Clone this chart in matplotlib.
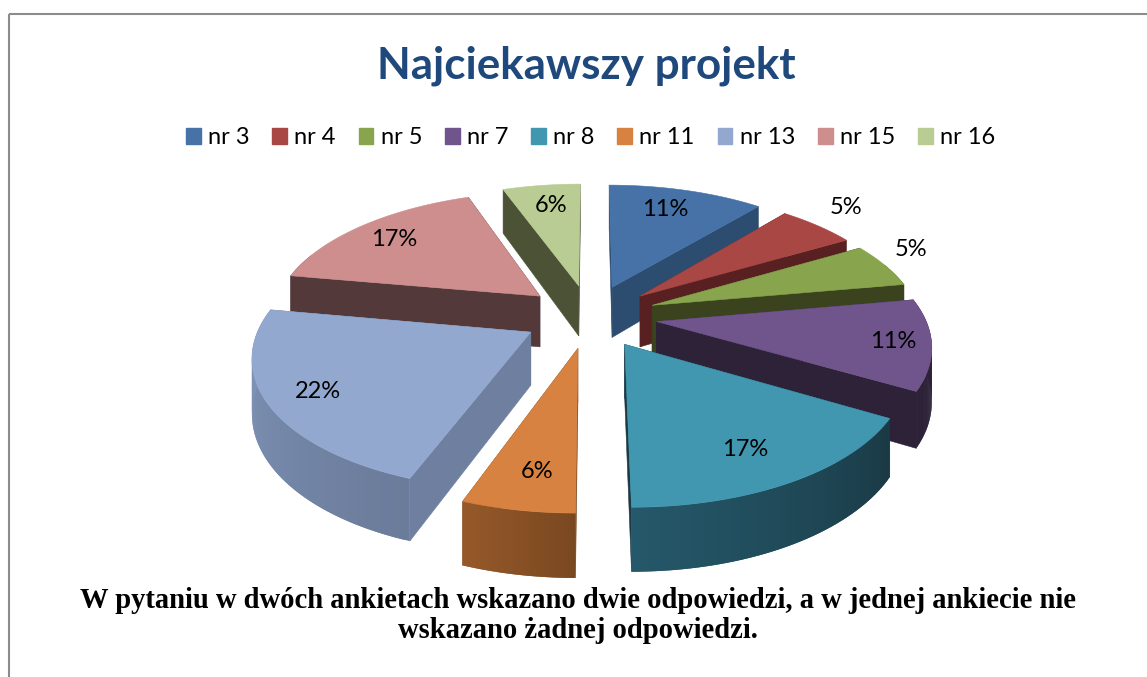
import numpy as np
import matplotlib
matplotlib.use("Agg")
import matplotlib.pyplot as plt
from matplotlib.patches import Polygon, Patch

categories = ["nr 3", "nr 4", "nr 5", "nr 7", "nr 8", "nr 11", "nr 13", "nr 15", "nr 16"]
# slice sizes (answers per project)
values = [2, 1, 1, 2, 3, 1, 4, 3, 1]
percent_labels = ["11%", "5%", "5%", "11%", "17%", "6%", "22%", "17%", "6%"]
title = "Najciekawszy projekt"
note = ["W pytaniu w dwóch ankietach wskazano dwie odpowiedzi, a w jednej ankiecie nie",
        "wskazano żadnej odpowiedzi."]

top_colors = ["#4672A8", "#A84744", "#88A44C", "#70548C", "#4197B0", "#D78240", "#92A8CE", "#CE8E8D", "#B9CC93"]
face_colors = ["#2C4D6F", "#582020", "#3A421E", "#2D2238", "#1A3A45", "#7A4820", "#6E7F9F", "#53393A", "#4B5236"]
# outer wall shade at the slice's start and end angle
wall_start = ["#2C4D6F", "#582020", "#3A421E", "#2D2238", "#1A3A45", "#7A4820", "#6B7B9A", "#53393A", "#4B5236"]
wall_end = ["#2C4D6F", "#582020", "#3A421E", "#2D2238", "#25586A", "#96592A", "#8298BC", "#53393A", "#4B5236"]
label_xy = [(665, 209), (846, 207), (911, 250), (893, 341), (745, 450), (537, 472), (318, 391), (394, 240), (551, 205)]

# projection parameters (pixels)
CX, CY, S, T, K, H, EXPLODE = 590, 316, 268, 126.8, 0.159, 52, 0.25


def project(u, v, z=0.0):
    w = 1 + K * v
    return np.column_stack([CX + S * u / w, CY - T * v / w + H * z / w])


def hex2rgb(c):
    return np.array(matplotlib.colors.to_rgb(c))


fig = plt.figure(figsize=(11.47, 6.77), dpi=100, facecolor="white")
ax = fig.add_axes([0, 0, 1, 1])
ax.set_xlim(0, 1147)
ax.set_ylim(677, 0)
ax.axis("off")

# chart frame, open past the picture's right and bottom edges
ax.add_patch(plt.Rectangle((9, 13.5), 1160, 700, fill=False, ec="#8C8C8C", lw=1.5))

vals = np.array(values, dtype=float)
edges = np.concatenate([[0], np.cumsum(vals)]) / vals.sum() * 2 * np.pi
mids = (edges[:-1] + edges[1:]) / 2
order = np.argsort(-np.cos(mids))

for i in order:
    a0, a1 = edges[i], edges[i + 1]
    ox, oy = EXPLODE * np.sin(mids[i]), EXPLODE * np.cos(mids[i])
    th = np.linspace(a0, a1, 80)
    us, vs = ox + np.sin(th), oy + np.cos(th)
    au, av = np.array([ox]), np.array([oy])
    # radial cut faces
    for a in (a0, a1):
        eu, ev = np.array([ox + np.sin(a)]), np.array([oy + np.cos(a)])
        pts = np.vstack([project(au, av), project(eu, ev), project(eu, ev, 1), project(au, av, 1)])
        ax.add_patch(Polygon(pts, fc=face_colors[i], ec=face_colors[i], lw=0.4))
    # outer wall as shaded strips, each overlapping the next to avoid seams
    t_pts, b_pts = project(us, vs), project(us, vs, 1)
    c0, c1 = hex2rgb(wall_start[i]), hex2rgb(wall_end[i])
    for j in range(len(th) - 1):
        if np.cos((th[j] + th[j + 1]) / 2) > 0.35:
            continue
        f = j / (len(th) - 2)
        col = c0 + (c1 - c0) * f
        k = min(j + 2, len(th) - 1)
        q = np.vstack([t_pts[j], t_pts[k], b_pts[k], b_pts[j]])
        ax.add_patch(Polygon(q, fc=col, ec="none"))
    # top surface
    top = np.vstack([project(au, av), t_pts])
    ax.add_patch(Polygon(top, fc=top_colors[i], ec=top_colors[i], lw=0.4))

# keep painter's order
for n, p in enumerate(ax.patches):
    p.set_zorder(2 + n * 1e-3)

for (x, y), s in zip(label_xy, percent_labels):
    ax.text(x, y, s, ha="center", va="center", fontsize=17, family="Lato", color="black", zorder=5)

ax.text(586, 66, title, ha="center", va="center", fontsize=31.7, family="Lato", weight="bold", color="#1F497D")

handles = [Patch(fc=c, ec=c) for c in top_colors]
ax.legend(handles, categories, ncol=9, loc="center", bbox_to_anchor=(590.5, 138), bbox_transform=ax.transData,
          frameon=False, prop={"family": "Lato", "size": 17}, handlelength=0.63, handleheight=0.63,
          handletextpad=0.3, columnspacing=0.97, borderpad=0, borderaxespad=0)

ax.text(577.5, 601, note[0], ha="center", va="center", fontsize=20.6, family="Liberation Serif", weight="bold", color="black")
ax.text(577.5, 631, note[1], ha="center", va="center", fontsize=20.6, family="Liberation Serif", weight="bold", color="black")

fig.savefig("out.png", dpi=100, facecolor="white")
